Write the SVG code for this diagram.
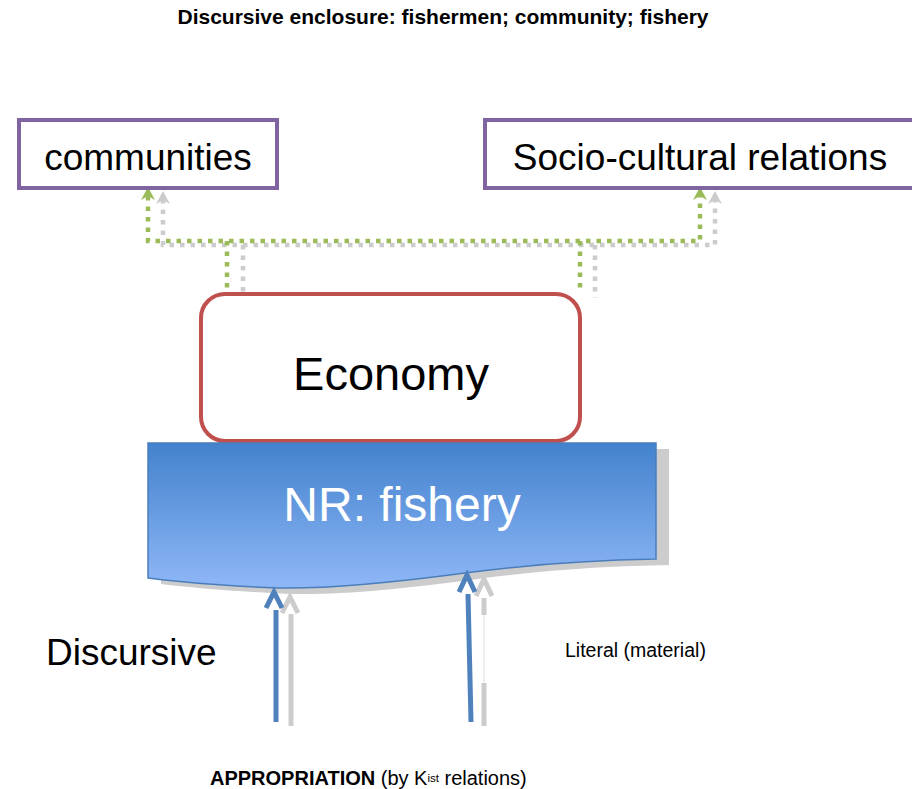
<svg xmlns="http://www.w3.org/2000/svg" width="912" height="789" viewBox="0 0 912 789">
<style>
text{font-family:"Liberation Sans",Arial,sans-serif;fill:#000}
.box{fill:#fff;stroke:#8064A2;stroke-width:4}
.dg{fill:none;stroke:#9BBB59;stroke-width:4.5;stroke-dasharray:4.5 6}
.dy{fill:none;stroke:#CCCCCC;stroke-width:4.5;stroke-dasharray:4.5 6}
.ab{fill:none;stroke:#4F81BD;stroke-width:5}
.ay{fill:none;stroke:#CCCCCC;stroke-width:5}
</style>
<defs>
<linearGradient id="g" x1="0" y1="0" x2="0" y2="1">
<stop offset="0" stop-color="#4382CD"/>
<stop offset="1" stop-color="#8FB7F7"/>
</linearGradient>
</defs>
<rect width="912" height="789" fill="#fff"/>
<text x="443" y="24" font-size="21" font-weight="bold" text-anchor="middle">Discursive enclosure: fishermen; community; fishery</text>

<g id="connectors">
<path class="dy" d="M163,199 V245 H715 V199 M243,245 V298 M595,245 V298"/>
<path class="dg" d="M148,196 V241 H700 V196 M227,241 V293 M580,241 V293"/>
<polygon points="163,191 156,204 163,200 170,204" fill="#CCCCCC"/>
<polygon points="715,191 708,204 715,200 722,204" fill="#CCCCCC"/>
<polygon points="148,187 141,200 148,196 155,200" fill="#9BBB59"/>
<polygon points="700,187 693,200 700,196 707,200" fill="#9BBB59"/>
</g>

<g id="communities">
<rect class="box" x="19" y="120" width="258" height="68"/>
<text x="148" y="170" font-size="37" text-anchor="middle">communities</text>
</g>
<g id="socio">
<rect class="box" x="485" y="120" width="430" height="68"/>
<text x="700" y="170" font-size="37" text-anchor="middle">Socio-cultural relations</text>
</g>

<g id="economy">
<rect x="201" y="294" width="379" height="147" rx="24" fill="#fff" stroke="#C0504D" stroke-width="4"/>
<text x="391" y="390" font-size="47" text-anchor="middle">Economy</text>
</g>

<g id="nr">
<path transform="translate(13,6)" d="M148,443 H656 V559 C600,560 540,563 465,573 C390,583 330,589 278,588 C230,586 180,582 148,578 Z" fill="#CCCCCC"/>
<path d="M148,443 H656 V559 C600,560 540,563 465,573 C390,583 330,589 278,588 C230,586 180,582 148,578 Z" fill="url(#g)" stroke="#4A7EBB" stroke-width="1.5"/>
<text x="402" y="521" font-size="48" text-anchor="middle" style="fill:#fff">NR: fishery</text>
</g>

<g id="arrows">
<path class="ay" d="M291,614 V726"/>
<polyline class="ay" points="282,613 290,597 298,613"/>
<path class="ab" d="M276,610 V722"/>
<polyline class="ab" points="266,608 274,592 282,608"/>
<path class="ay" d="M484,598 V615 M484,683 V726"/>
<path d="M484,615 V683" stroke="#DDDDDD" stroke-width="1"/>
<polyline class="ay" points="476,596 484,579 492,596"/>
<path class="ab" d="M468,594 L471,722"/>
<polyline class="ab" points="459,592 467,575 475,592"/>
</g>

<text x="46" y="665" font-size="37">Discursive</text>
<text x="565" y="657" font-size="19.5">Literal (material)</text>
<text x="210" y="785" font-size="20"><tspan font-weight="bold">APPROPRIATION</tspan> (by K<tspan font-size="11.5" dy="-3">ist</tspan><tspan dy="3"> relations)</tspan></text>
</svg>
